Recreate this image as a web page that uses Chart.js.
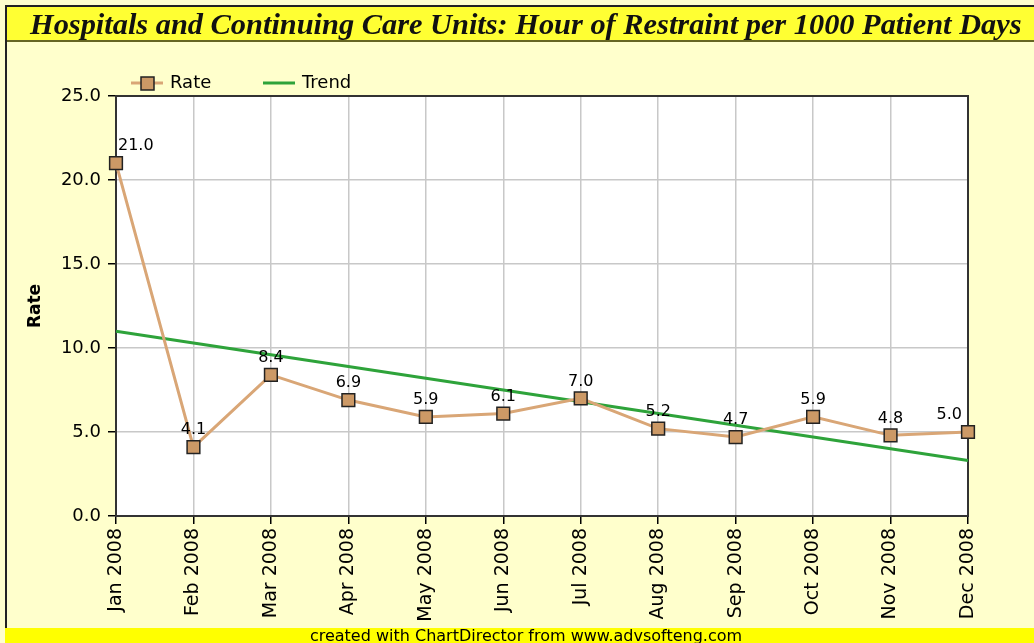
<!DOCTYPE html>
<html>
<head>
<meta charset="utf-8">
<script src="https://cdn.jsdelivr.net/npm/chart.js@4"></script>
<style>
  body { margin: 0; background: #ffffcc; }
  #wrap { width: 1034px; height: 643px; }
</style>
</head>
<body>
<div id="wrap"><canvas id="rateChart" width="1034" height="643"></canvas></div>
<script>
// Chart data
const months = ['Jan 2008', 'Feb 2008', 'Mar 2008', 'Apr 2008', 'May 2008', 'Jun 2008',
                'Jul 2008', 'Aug 2008', 'Sep 2008', 'Oct 2008', 'Nov 2008', 'Dec 2008'];
const rate = [21.0, 4.1, 8.4, 6.9, 5.9, 6.1, 7.0, 5.2, 4.7, 5.9, 4.8, 5.0];
// trend line end points, the middle is left open
const trend = [11.0, null, null, null, null, null, null, null, null, null, null, 3.3];
const yTicks = [0, 5, 10, 15, 20, 25];

const titleText = 'Hospitals and Continuing Care Units: Hour of Restraint per 1000 Patient Days';
const footerText = 'created with ChartDirector from www.advsofteng.com';

const RATE_LINE = '#d9a676';
const RATE_FILL = '#cc9966';
const TREND = '#2ea33a';
const SANS = '"DejaVu Sans", sans-serif';

// background, title bar, footer, plot frame, legend, value labels
const decor = {
    id: 'decor',
    beforeDraw(chart) {
        const c = chart.ctx;
        const a = chart.chartArea;
        c.save();
        c.fillStyle = '#ffffcc';
        c.fillRect(0, 0, chart.width, chart.height);
        // outer border
        c.fillStyle = '#222';
        c.fillRect(5, 5, chart.width - 5, 2);
        c.fillRect(5, 5, 2, 623);
        // title bar
        c.fillStyle = '#ffff33';
        c.fillRect(7, 7, chart.width - 7, 33);
        c.fillStyle = '#666622';
        c.fillRect(7, 40, chart.width - 7, 2);
        // footer bar
        c.fillStyle = '#ffff00';
        c.fillRect(5, 628, chart.width - 5, 15);
        // plot background
        c.fillStyle = '#ffffff';
        c.fillRect(a.left, a.top, a.right - a.left, a.bottom - a.top);

        // title
        let size = 26;
        c.font = `italic bold ${size}px "Liberation Serif", serif`;
        size = size * 992 / c.measureText(titleText).width;
        c.font = `italic bold ${size}px "Liberation Serif", serif`;
        c.fillStyle = '#111';
        c.textBaseline = 'middle';
        c.textAlign = 'left';
        c.fillText(titleText, 30, 26);

        // footer text
        c.font = `16px ${SANS}`;
        c.textAlign = 'center';
        c.textBaseline = 'top';
        c.fillStyle = '#000';
        c.fillText(footerText, 526, 629);

        // legend
        c.lineWidth = 3;
        c.strokeStyle = RATE_LINE;
        c.beginPath(); c.moveTo(131, 83); c.lineTo(163, 83); c.stroke();
        c.fillStyle = RATE_FILL;
        c.fillRect(141, 77, 13, 13);
        c.lineWidth = 1.5;
        c.strokeStyle = '#222';
        c.strokeRect(141, 77, 13, 13);
        c.lineWidth = 3;
        c.strokeStyle = TREND;
        c.beginPath(); c.moveTo(263, 83); c.lineTo(295, 83); c.stroke();
        c.font = `18px ${SANS}`;
        c.fillStyle = '#000';
        c.textAlign = 'left';
        c.textBaseline = 'middle';
        c.fillText('Rate', 170, 83);
        c.fillText('Trend', 302, 83);
        c.restore();
    },
    beforeDatasetsDraw(chart) {
        const c = chart.ctx;
        const a = chart.chartArea;
        c.save();
        c.lineWidth = 2;
        c.strokeStyle = '#333';
        c.strokeRect(a.left, a.top, a.right - a.left, a.bottom - a.top);
        c.restore();
    },
    afterDatasetsDraw(chart) {
        const c = chart.ctx;
        const a = chart.chartArea;
        const meta = chart.getDatasetMeta(0);
        c.save();
        c.font = `16px ${SANS}`;
        c.fillStyle = '#000';
        c.textAlign = 'center';
        c.textBaseline = 'middle';
        meta.data.forEach((pt, i) => {
            const txt = rate[i].toFixed(1);
            const w = c.measureText(txt).width;
            let x = pt.x;
            x = Math.max(x, a.left + 2 + w / 2);
            x = Math.min(x, a.right - 6 - w / 2);
            c.fillText(txt, x, pt.y - 17);
        });
        c.restore();
    }
};

const ctx = document.getElementById('rateChart').getContext('2d');
new Chart(ctx, {
    type: 'line',
    data: {
        labels: months,
        datasets: [{
            label: 'Rate',
            data: rate,
            borderColor: RATE_LINE,
            borderWidth: 3,
            pointStyle: 'rect',
            pointRadius: 9,
            pointBackgroundColor: RATE_FILL,
            pointBorderColor: '#222',
            pointBorderWidth: 1.5,
            tension: 0
        }, {
            label: 'Trend',
            data: trend,
            borderColor: TREND,
            borderWidth: 3,
            pointRadius: 0,
            spanGaps: true,
            tension: 0
        }]
    },
    options: {
        responsive: false,
        animation: false,
        layout: { padding: { left: 25, top: 96, right: 66, bottom: 0 } },
        plugins: {
            legend: { display: false },
            tooltip: { enabled: false }
        },
        scales: {
            x: {
                offset: false,
                afterFit: s => { s.height = 127; },
                grid: { color: '#c8c8c8', lineWidth: 1.5, tickColor: '#000', tickLength: 8, offset: false },
                border: { color: '#000', width: 2 },
                ticks: {
                    autoSkip: false,
                    maxRotation: 90,
                    minRotation: 90,
                    padding: 4,
                    color: '#000',
                    font: { family: SANS, size: 19 }
                }
            },
            y: {
                min: 0,
                max: 25,
                afterFit: s => { s.width = 91; },
                afterBuildTicks: s => { s.ticks = yTicks.map(v => ({ value: v })); },
                grid: { color: '#c8c8c8', lineWidth: 1.5, tickColor: '#000', tickLength: 8 },
                border: { color: '#000', width: 2 },
                title: {
                    display: true,
                    text: 'Rate',
                    color: '#000',
                    font: { family: SANS, size: 17, weight: 'bold' },
                    padding: { top: 0, bottom: 0 }
                },
                ticks: {
                    padding: 7,
                    color: '#000',
                    font: { family: SANS, size: 18 },
                    callback: v => v.toFixed(1)
                }
            }
        }
    },
    plugins: [decor]
});
</script>
</body>
</html>
